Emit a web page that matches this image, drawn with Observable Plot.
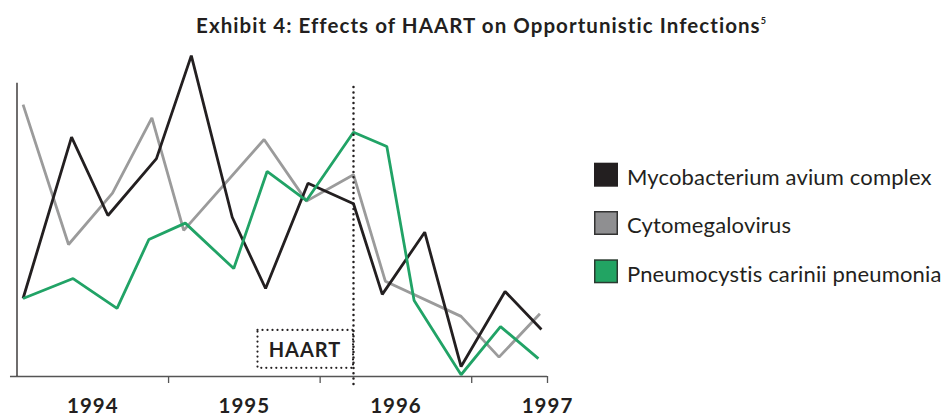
<!DOCTYPE html>
<html>
<head>
<meta charset="utf-8">
<script src="https://cdn.jsdelivr.net/npm/d3@7"></script>
<script src="https://cdn.jsdelivr.net/npm/@observablehq/plot@0.6"></script>
<style>
  html, body { margin: 0; padding: 0; background: #fff; }
  #wrap { position: relative; width: 948px; height: 416px; font-family: Lato, "Open Sans", sans-serif; color: #231f20; overflow: hidden; }
  #title { position: absolute; left: 0; top: 12.5px; width: 962px; text-align: center; font-size: 20.5px; letter-spacing: 1.05px; line-height: 24px; font-weight: bold; white-space: nowrap; }
  #title sup { font-size: 9px; vertical-align: 9px; line-height: 0; letter-spacing: 0; }
  #chart { position: absolute; left: 0; top: 40px; }
  #legend { position: absolute; left: 0; top: 0; }
</style>
</head>
<body>
<div id="wrap">
  <div id="title">Exhibit 4: Effects of HAART on Opportunistic Infections<sup>5</sup></div>
  <div id="chart"></div>
  <svg id="legend" width="948" height="416"></svg>
</div>
<script>
// ---- data (x in fractional years, y on an index scale 0-100) ----
const seriesNames = ["Mycobacterium avium complex", "Cytomegalovirus", "Pneumocystis carinii pneumonia"];
const seriesColors = ["#231f20", "#9b9b9b", "#21a366"];

const macX = [1994.04, 1994.36, 1994.60, 1994.92, 1995.15, 1995.42, 1995.64, 1995.92, 1996.22, 1996.41, 1996.69, 1996.93, 1997.22, 1997.46];
const macY = [26.6, 81.6, 54.9, 74.3, 109.4, 54.3, 30.0, 65.9, 58.9, 28.0, 49.2, 3.4, 29.0, 16.0];

const cmvX = [1994.04, 1994.34, 1994.63, 1994.89, 1995.10, 1995.63, 1995.91, 1996.22, 1996.43, 1996.93, 1997.18, 1997.45];
const cmvY = [92.7, 45.0, 62.5, 88.2, 49.8, 80.8, 59.8, 68.8, 32.5, 20.5, 6.6, 21.4];

const pcpX = [1994.04, 1994.37, 1994.66, 1994.87, 1995.11, 1995.43, 1995.65, 1995.91, 1996.22, 1996.44, 1996.62, 1996.93, 1997.19, 1997.44];
const pcpY = [26.6, 33.4, 23.2, 46.7, 52.3, 36.8, 69.9, 60.0, 83.3, 78.4, 25.9, 0.6, 17.0, 6.1];

const yearLabels = ["1994", "1995", "1996", "1997"];
const yearLabelAt = [1994.5, 1995.5, 1996.5, 1997.5];
const yearTicks = [1995, 1996, 1997, 1997.5];
const xDomain = [1994, 1997.5];
const yDomain = [0, 100];

const haartX = 1996.22;
const haartBox = {x1: 1995.59, x2: 1996.22, y1: 2.8, y2: 15.7};
const haartLabel = {text: "HAART", x: 1995.90, y: 9.0};

// ---- build table ----
const data = [];
[[macX, macY], [cmvX, cmvY], [pcpX, pcpY]].forEach(([xs, ys], s) => {
  xs.forEach((x, i) => data.push({series: seriesNames[s], x, y: ys[i]}));
});
const drawOrder = [seriesNames[1], seriesNames[0], seriesNames[2]];

const labelMap = new Map(yearLabelAt.map((p, i) => [p, yearLabels[i]]));

const chart = Plot.plot({
  width: 580,
  height: 376,
  marginLeft: 16.5,
  marginRight: 33,
  marginTop: 42.7,
  marginBottom: 40,
  style: {fontFamily: "Lato, sans-serif", background: "transparent", overflow: "visible", color: "#231f20"},
  x: {domain: xDomain, label: null},
  y: {domain: yDomain, axis: null, label: null},
  color: {domain: seriesNames, range: seriesColors},
  marks: [
    Plot.axisX({ticks: yearTicks, tickSize: 7, fill: "none", stroke: "#555", strokeWidth: 1.3, label: null}),
    Plot.axisX({ticks: yearLabelAt, tickSize: 0, tickPadding: 22, tickFormat: d => labelMap.get(d),
      fontSize: 20.5, fontWeight: "bold", fill: "#231f20", label: null}),
    Plot.ruleY([0], {x1: xDomain[0] - 0.043, x2: xDomain[1], stroke: "#555", strokeWidth: 1.3}),
    Plot.ruleX([xDomain[0]], {y1: yDomain[0], y2: yDomain[1], stroke: "#231f20", strokeWidth: 1.3}),
    ...drawOrder.map(name => Plot.line(data.filter(d => d.series === name), {
      x: "x", y: "y", stroke: "series", strokeWidth: 2.8,
      strokeLinejoin: "miter", strokeLinecap: "butt", curve: "linear"
    })),
    Plot.rect([haartBox], {x1: "x1", x2: "x2", y1: "y1", y2: "y2", fill: "none",
      stroke: "#231f20", strokeWidth: 2.2, strokeDasharray: "0,5", strokeLinecap: "round"}),
    Plot.ruleX([haartX], {y1: -2.7, y2: yDomain[1], stroke: "#231f20", strokeWidth: 2.5,
      strokeDasharray: "0,5.3", strokeLinecap: "round"}),
    Plot.text([haartLabel], {x: "x", y: "y", text: "text", fontSize: 20, fontWeight: "bold", fill: "#231f20"})
  ]
});
document.getElementById("chart").appendChild(chart);
// letter spacing for the year labels and the HAART label (text style only)
d3.select(chart).selectAll("text").style("letter-spacing", "1px");

// ---- legend ----
const legendFill = ["#231f20", "#8f8f91", "#22a463"];
const legendStroke = ["#231f20", "#333333", "#2a3a30"];
const lg = d3.select("#legend");
seriesNames.forEach((name, i) => {
  const g = lg.append("g").attr("transform", `translate(594, ${162.7 + i * 48.3})`);
  g.append("rect").attr("x", 0.75).attr("y", 0.75).attr("width", 22.5).attr("height", 22.5)
    .attr("fill", legendFill[i]).attr("stroke", legendStroke[i]).attr("stroke-width", 1.5);
  g.append("text").attr("x", 33).attr("y", 22.3)
    .attr("font-family", "Lato, sans-serif").attr("font-size", 22)
    .attr("letter-spacing", "0.15px")
    .attr("fill", "#231f20").text(name);
});
</script>
</body>
</html>
